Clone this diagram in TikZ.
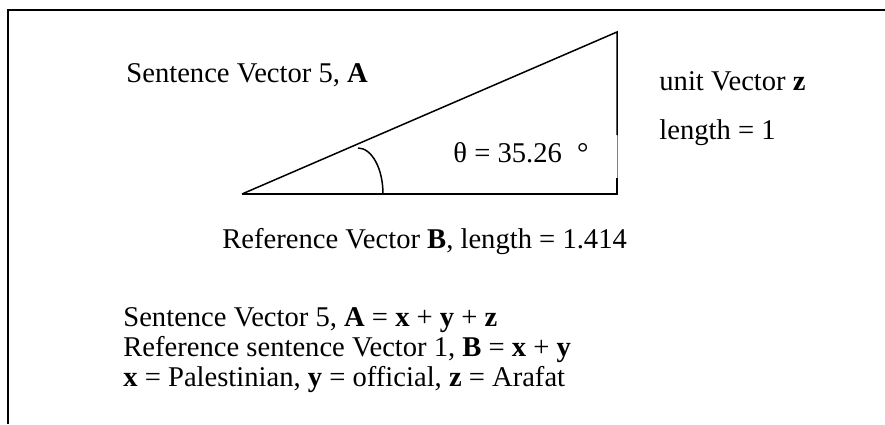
\documentclass[tikz,border=0pt]{standalone}
\usepackage{fontspec}
\setmainfont{Liberation Serif}

\tikzset{
    lbl/.style={anchor=base west, inner sep=0pt, font=\fontsize{14.3}{15}\selectfont},
    vec/.style={line width=0.75pt}
}

\begin{document}
\begin{tikzpicture}[x=0.5pt, y=-0.5pt]
    \useasboundingbox (0,0) rectangle (885,424);

    % Khung (chỉ cạnh trên và cạnh trái)
    \draw[line width=1pt] (885,10) -- (8,10) -- (8,424);

    % Tam giác vectơ
    \coordinate (O) at (242,194);
    \coordinate (P) at (617,194);
    \coordinate (Q) at (617,32);
    \coordinate (Q1) at (617,135);
    \coordinate (Q2) at (617,178);
    \draw[vec] (O) -- (P) -- (Q2);
    \draw[gray, line width=0.5pt] (Q2) -- (Q1);
    \draw[vec] (Q1) -- (Q) -- (O);

    % Góc theta
    \draw[vec] (358,148) arc[start angle=-90, end angle=0, x radius=25, y radius=46];

    % Nhãn
    \node[lbl] (lblA) at (126,82) {Sentence Vector 5, \textbf{A}};
    \node[lbl] (lblZ) at (659,90) {unit Vector \textbf{z}};
    \node[lbl] (lblLen) at (659,139) {length = 1};
    \node[lbl] (lblTheta) at (453,162) {θ = 35.26\hspace{4pt} °};
    \node[lbl] (lblB) at (222,248) {Reference Vector \textbf{B}, length = 1.414};

    % Chú thích phía dưới
    \node[lbl] (eqA) at (123,326) {Sentence Vector 5, \textbf{A} = \textbf{x} + \textbf{y} + \textbf{z}};
    \node[lbl] (eqB) at (123,356) {Reference sentence Vector 1, \textbf{B} = \textbf{x} + \textbf{y}};
    \node[lbl] (eqXYZ) at (123,386) {\textbf{x} = Palestinian, \textbf{y} = official, \textbf{z} = Arafat};
\end{tikzpicture}
\end{document}
